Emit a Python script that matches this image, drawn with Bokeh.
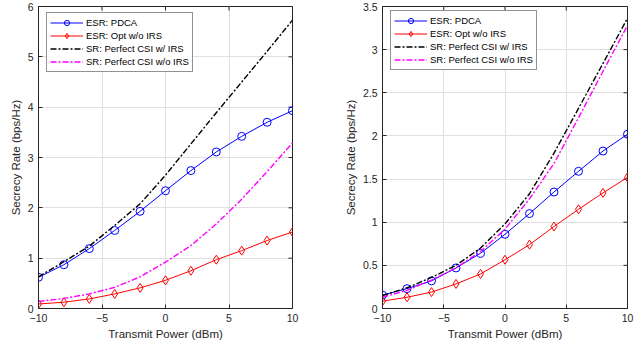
import math
from bokeh.plotting import figure
from bokeh.models import Range1d, FixedTicker, Legend, LegendItem
from bokeh.layouts import row
from bokeh.embed import file_html
from bokeh.resources import INLINE

# ---------------- data ----------------
power_dbm = [-10, -8, -6, -4, -2, 0, 2, 4, 6, 8, 10]

left_esr_pdca = [0.62, 0.87, 1.19, 1.55, 1.93, 2.34, 2.74, 3.11, 3.42, 3.70, 3.93]
left_esr_opt_wo_irs = [0.09, 0.125, 0.19, 0.29, 0.41, 0.56, 0.75, 0.97, 1.15, 1.35, 1.52]
left_sr_csi_w_irs = [0.63, 0.93, 1.24, 1.65, 2.08, 2.65, 3.27, 3.89, 4.50, 5.11, 5.73]
left_sr_csi_wo_irs = [0.14, 0.20, 0.29, 0.42, 0.63, 0.92, 1.25, 1.68, 2.17, 2.72, 3.29]

right_esr_pdca = [0.155, 0.23, 0.32, 0.47, 0.64, 0.86, 1.10, 1.35, 1.59, 1.825, 2.02]
right_esr_opt_wo_irs = [0.085, 0.13, 0.19, 0.285, 0.40, 0.565, 0.74, 0.95, 1.15, 1.34, 1.52]
right_sr_csi_w_irs = [0.15, 0.24, 0.36, 0.50, 0.70, 0.98, 1.33, 1.80, 2.32, 2.84, 3.365]
right_sr_csi_wo_irs = [0.13, 0.21, 0.33, 0.47, 0.66, 0.92, 1.27, 1.68, 2.21, 2.75, 3.28]

x_ticks = [-10, -5, 0, 5, 10]
left_y_ticks = [0, 1, 2, 3, 4, 5, 6]
left_y_labels = ["0", "1", "2", "3", "4", "5", "6"]
right_y_ticks = [0, 0.5, 1, 1.5, 2, 2.5, 3, 3.5]
right_y_labels = ["0", "0.5", "1", "1.5", "2", "2.5", "3", "3.5"]

series_names = ["ESR: PDCA", "ESR: Opt w/o IRS", "SR: Perfect CSI w/ IRS", "SR: Perfect CSI w/o IRS"]
x_label = "Transmit Power (dBm)"
y_label = "Secrecy Rate (bps/Hz)"

X_MIN, X_MAX = -10, 10
FONT = "Liberation Sans"
AX = "#262626"


def style_axis(ax):
    ax.axis_line_color = AX
    ax.axis_line_width = 1
    ax.major_tick_line_color = AX
    ax.major_tick_in = 4
    ax.major_tick_out = 0
    ax.minor_tick_line_color = None
    ax.major_label_text_font = FONT
    ax.major_label_text_color = AX
    ax.major_label_text_font_size = "10.5px"
    ax.major_label_standoff = 5
    ax.axis_label_text_font = FONT
    ax.axis_label_text_font_size = "11.5px"
    ax.axis_label_text_font_style = "normal"
    ax.axis_label_text_color = AX
    ax.axis_label_standoff = 3


def make_panel(ymax, yticks, ylabels, fw, mbl, mbr, legend_loc, data):
    p = figure(frame_width=fw, frame_height=302,
               x_range=Range1d(X_MIN, X_MAX), y_range=Range1d(0, ymax),
               output_backend="svg", toolbar_location=None,
               min_border_left=mbl, min_border_right=mbr,
               min_border_top=6, min_border_bottom=37,
               x_axis_label=x_label, y_axis_label=y_label)
    p.background_fill_color = "white"
    p.border_fill_color = "white"
    p.outline_line_color = AX
    p.outline_line_width = 1
    p.xaxis.ticker = FixedTicker(ticks=x_ticks)
    p.yaxis.ticker = FixedTicker(ticks=yticks)
    p.yaxis.major_label_overrides = {t: l for t, l in zip(yticks, ylabels)}
    style_axis(p.xaxis[0])
    style_axis(p.yaxis[0])
    p.xgrid.ticker = FixedTicker(ticks=x_ticks)
    p.ygrid.ticker = FixedTicker(ticks=yticks)
    p.xgrid.grid_line_color = "#dfdfdf"
    p.ygrid.grid_line_color = "#dfdfdf"

    # inward tick marks on the top and right edges of the box (clipped by the frame)
    p.scatter(x_ticks, [ymax] * len(x_ticks), marker="dash", angle=math.pi / 2,
              size=8, line_color=AX, line_width=1)
    p.scatter([X_MAX] * len(yticks), yticks, marker="dash", angle=0,
              size=8, line_color=AX, line_width=1)

    pdca, opt, srw, srwo = data
    l1 = p.line(power_dbm, pdca, line_color="#0000ff", line_width=1)
    m1 = p.scatter(power_dbm, pdca, marker="circle", size=8, line_color="#0000ff",
                   fill_color=None, line_width=1)
    l2 = p.line(power_dbm, opt, line_color="#ff0000", line_width=1)
    m2 = p.scatter(power_dbm, opt, marker="diamond", size=9, line_color="#ff0000",
                   fill_color=None, line_width=1)
    l3 = p.line(power_dbm, srw, line_color="#000000", line_width=1.4, line_dash="6 2 2 2")
    l4 = p.line(power_dbm, srwo, line_color="#ff00ff", line_width=1.4, line_dash="6 2 2 2")

    items = [LegendItem(label=series_names[0], renderers=[l1, m1]),
             LegendItem(label=series_names[1], renderers=[l2, m2]),
             LegendItem(label=series_names[2], renderers=[l3]),
             LegendItem(label=series_names[3], renderers=[l4])]
    leg = Legend(items=items, location=legend_loc)
    leg.label_text_font = FONT
    leg.label_text_font_size = "9.5px"
    leg.label_text_color = "#000000"
    leg.glyph_width = 33
    leg.glyph_height = 13
    leg.label_height = 13
    leg.spacing = 0
    leg.padding = 3
    leg.label_standoff = 3
    leg.border_line_color = AX
    leg.border_line_width = 1
    leg.background_fill_color = "white"
    leg.background_fill_alpha = 1
    p.add_layout(leg)
    return p


p_left = make_panel(6, left_y_ticks, left_y_labels, 254, 38, 30, (8, 236),
                    (left_esr_pdca, left_esr_opt_wo_irs, left_sr_csi_w_irs, left_sr_csi_wo_irs))
p_right = make_panel(3.5, right_y_ticks, right_y_labels, 245, 60, 17, (8, 238),
                     (right_esr_pdca, right_esr_opt_wo_irs, right_sr_csi_w_irs, right_sr_csi_wo_irs))

layout = row(p_left, p_right)
open("out.html", "w").write(file_html(layout, INLINE))
